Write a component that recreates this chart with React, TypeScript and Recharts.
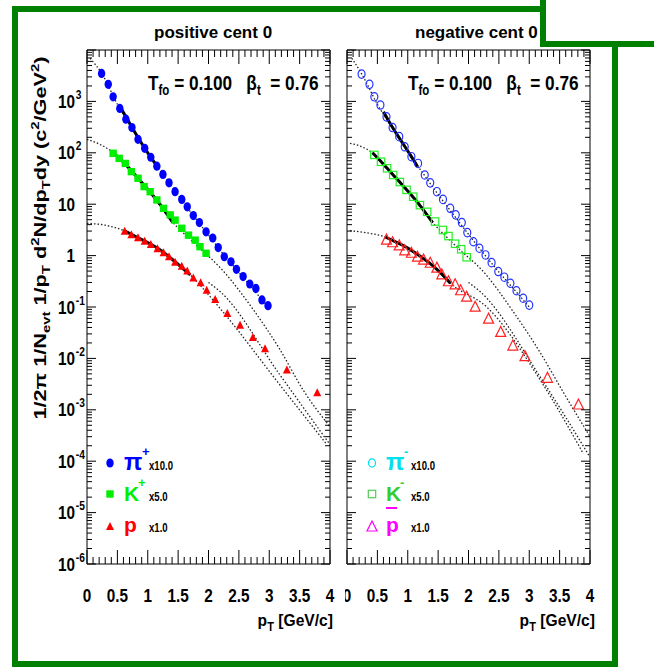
import React from "react";
import { ComposedChart, Line, Scatter, XAxis, YAxis, ReferenceLine, Legend } from "recharts";

type Pt = [number, number];

// pT (GeV/c) and scaled yield; pi x10, K x5, p x1
const piPlus: Pt[] = [
  [0.24, 3500], [0.35, 2150], [0.43, 1230], [0.54, 730], [0.64, 450], [0.74, 310], [0.84, 183],
  [0.95, 122], [1.05, 82], [1.15, 55], [1.25, 38], [1.35, 26], [1.45, 17.5], [1.56, 12.4],
  [1.65, 8.9], [1.75, 6.0], [1.85, 4.4], [1.96, 2.9], [2.07, 2.2], [2.16, 1.43], [2.26, 0.95],
  [2.37, 0.76], [2.46, 0.54], [2.57, 0.39], [2.68, 0.28], [2.78, 0.23], [2.88, 0.137], [2.98, 0.106],
];
const kPlus: Pt[] = [
  [0.43, 98], [0.53, 78], [0.63, 62], [0.73, 43], [0.84, 32], [0.94, 22], [1.04, 17.5], [1.15, 12.1],
  [1.26, 8.3], [1.37, 6.2], [1.45, 4.9], [1.56, 3.4], [1.67, 2.5], [1.78, 2.0], [1.86, 1.49], [1.96, 1.11],
];
const proton: Pt[] = [
  [0.62, 2.9], [0.73, 2.5], [0.84, 2.17], [0.95, 1.86], [1.05, 1.61], [1.16, 1.33], [1.26, 1.11],
  [1.35, 0.93], [1.45, 0.73], [1.56, 0.61], [1.65, 0.49], [1.75, 0.36], [1.87, 0.29], [1.97, 0.207],
  [2.11, 0.137], [2.31, 0.073], [2.52, 0.043], [2.73, 0.025], [2.93, 0.015], [3.29, 0.0058], [3.79, 0.0021],
];
const piMinus: Pt[] = [
  [0.24, 3400], [0.37, 2150], [0.45, 1230], [0.55, 850], [0.65, 500], [0.75, 310], [0.86, 206],
  [0.95, 131], [1.06, 84], [1.17, 62], [1.28, 37], [1.37, 26], [1.48, 17.5], [1.58, 12.4],
  [1.7, 8.3], [1.79, 6.2], [1.89, 4.4], [1.98, 2.8], [2.08, 1.86], [2.18, 1.39], [2.28, 1.03],
  [2.38, 0.73], [2.49, 0.49], [2.59, 0.38], [2.69, 0.29], [2.79, 0.207], [2.9, 0.148], [3.0, 0.109],
];
const kMinus: Pt[] = [
  [0.45, 91], [0.56, 67], [0.66, 50], [0.76, 37], [0.87, 27], [0.98, 19], [1.09, 14], [1.2, 9.6],
  [1.32, 7.1], [1.45, 4.6], [1.58, 3.15], [1.67, 2.4], [1.78, 1.7], [1.88, 1.33], [1.97, 0.93],
];
const pBar: Pt[] = [
  [0.65, 2.0], [0.75, 1.78], [0.86, 1.54], [0.95, 1.24], [1.06, 1.11], [1.16, 0.93], [1.26, 0.82],
  [1.37, 0.71], [1.48, 0.57], [1.56, 0.42], [1.67, 0.31], [1.78, 0.27], [1.87, 0.207], [1.97, 0.155],
  [2.11, 0.099], [2.33, 0.058], [2.53, 0.032], [2.73, 0.0174], [2.93, 0.0108], [3.3, 0.0041], [3.81, 0.00124],
];

// blast-wave fits (solid: fit range, dotted: extrapolation)
const piFitPos: Pt[] = [[0.54, 800], [0.7, 380], [0.85, 190], [1.0, 100], [1.16, 54]];
const kFitPos: Pt[] = [[0.4, 108], [0.6, 66], [0.8, 36], [1.0, 19.5], [1.2, 10], [1.41, 4.4]];
const pFitPos: Pt[] = [[0.6, 3.1], [0.8, 2.35], [1.0, 1.8], [1.2, 1.3], [1.4, 0.85], [1.55, 0.6], [1.7, 0.42]];
const piFitNeg: Pt[] = [[0.6, 630], [0.75, 310], [0.9, 165], [1.05, 88], [1.16, 54]];
const kFitNeg: Pt[] = [[0.42, 100], [0.6, 60], [0.8, 33], [1.0, 18], [1.2, 9.5], [1.41, 4.4]];
const pFitNeg: Pt[] = [[0.63, 2.3], [0.8, 1.85], [1.0, 1.4], [1.2, 0.98], [1.4, 0.65], [1.55, 0.45], [1.7, 0.29]];

const piDotPos: Pt[] = [
  [0.05, 6900], [0.25, 3400], [0.5, 880], [0.75, 290], [1.0, 100], [1.25, 38], [1.5, 15],
  [1.75, 6], [2.0, 2.5], [2.25, 1.05], [2.5, 0.47], [2.75, 0.21], [3.0, 0.095],
];
const kDotPos: Pt[] = [
  [0, 183], [0.2, 148], [0.4, 108], [0.7, 50], [1.0, 19.5], [1.4, 4.6], [1.8, 1.6], [2.2, 0.57],
  [2.74, 0.088], [3.18, 0.0146], [3.56, 0.0024], [4.0, 0.00047],
];
const pDotPos: Pt[] = [
  [0, 4.25], [0.3, 3.9], [0.6, 3.1], [1.0, 1.8], [1.4, 0.85], [1.7, 0.42], [2.19, 0.094],
  [3.18, 0.003], [3.95, 0.00021],
];
const pDot2Pos: Pt[] = [[2.0, 0.3], [2.19, 0.2], [3.18, 0.0047], [4.0, 0.00021]];
const piDotNeg: Pt[] = [
  [0.08, 6900], [0.25, 3300], [0.5, 880], [0.75, 300], [1.0, 105], [1.25, 40], [1.5, 15.5],
  [1.75, 6.3], [2.0, 2.6], [2.25, 1.1], [2.5, 0.48], [2.75, 0.22], [3.0, 0.1],
];
const kDotNeg: Pt[] = [
  [0.05, 153], [0.25, 130], [0.42, 100], [0.7, 46], [1.0, 18], [1.41, 4.4], [1.8, 1.5], [2.25, 0.48],
  [2.74, 0.08], [3.18, 0.013], [3.56, 0.0022], [4.0, 0.0003],
];
const pDotNeg: Pt[] = [
  [0.05, 3.05], [0.3, 2.8], [0.63, 2.3], [1.0, 1.4], [1.4, 0.65], [1.7, 0.29], [2.3, 0.1],
  [3.2, 0.0035], [3.89, 0.00014],
];
const pDot2Neg: Pt[] = [[2.0, 0.3], [2.19, 0.2], [3.2, 0.004], [4.0, 0.00012]];

const xTickLabels = ["0", "0.5", "1", "1.5", "2", "2.5", "3", "3.5", "4"];
const yDecades = [-6, -5, -4, -3, -2, -1, 0, 1, 2, 3, 4];

const FONT = "'Liberation Sans', Arial, Helvetica, sans-serif";
const GREEN = "#008000";
const PLOT_W = 243;
const PLOT_H = 514;

const xTicks = Array.from({ length: 41 }, (_, i) => i / 10);
const yTicks = yDecades.flatMap((e) =>
  e === 4 ? [1e4] : [1, 2, 3, 4, 5, 6, 7, 8, 9].map((m) => m * Math.pow(10, e))
);

const toD = (a: Pt[]) => a.map(([x, y]) => ({ x, y }));

// text with sub/superscripts: each part is [text, shift in px (+down), font size or 0 for base]
type Part = [string, number, number];
function Rich({ parts }: { parts: Part[] }) {
  let level = 0;
  return (
    <>
      {parts.map(([t, shift, size], i) => {
        const dy = shift - level;
        level = shift;
        return (
          <tspan key={i} dy={dy || undefined} fontSize={size || undefined}>
            {t}
          </tspan>
        );
      })}
    </>
  );
}

function XTick(props: any) {
  const { x, y, payload } = props;
  const v = payload.value as number;
  const major = Math.abs(v * 2 - Math.round(v * 2)) < 1e-6;
  const len = major ? 14 : 7;
  return (
    <g>
      <line x1={x} x2={x} y1={y} y2={y - len} stroke="#000" />
      <line x1={x} x2={x} y1={y - PLOT_H} y2={y - PLOT_H + len} stroke="#000" />
      {major && (
        <g transform={`translate(${x},${y + 38}) scale(0.85,1)`}>
          <text textAnchor="middle" fontSize={18} fontWeight="bold" fontFamily={FONT} fill="#000">
            {xTickLabels[Math.round(v * 2)]}
          </text>
        </g>
      )}
    </g>
  );
}

function YTick(props: any) {
  const { x, y, payload, showLabel } = props;
  const v = payload.value as number;
  const lg = Math.log10(v);
  const e = Math.round(lg);
  const major = Math.abs(lg - e) < 1e-6;
  const len = major ? 9 : 5;
  return (
    <g>
      <line x1={x} x2={x + len} y1={y} y2={y} stroke="#000" />
      <line x1={x + PLOT_W} x2={x + PLOT_W - len} y1={y} y2={y} stroke="#000" />
      {major && showLabel && e < 4 && (
        <g transform={`translate(${x - 12},${y + 6.5}) scale(0.85,1)`}>
          <text textAnchor="end" fontSize={18} fontWeight="bold" fontFamily={FONT} fill="#000">
            {e === 0 ? "1" : "10"}
          </text>
          {e !== 0 && e !== 1 && (
            <text x={1} y={-9} fontSize={12} fontWeight="bold" fontFamily={FONT} fill="#000">
              {String(e)}
            </text>
          )}
        </g>
      )}
    </g>
  );
}

const marker = (kind: string, color: string) => (p: any) => {
  const { cx, cy } = p;
  if (cx == null || cy == null) return <g />;
  switch (kind) {
    case "circle":
      return <ellipse cx={cx} cy={cy} rx={3.7} ry={4.6} fill={color} />;
    case "ocircle":
      return <ellipse cx={cx} cy={cy} rx={3.5} ry={4.2} fill="none" stroke={color} strokeWidth={1.2} />;
    case "square":
      return <rect x={cx - 3.7} y={cy - 3.7} width={7.4} height={7.4} fill={color} />;
    case "osquare":
      return <rect x={cx - 3.7} y={cy - 3.7} width={7.4} height={7.4} fill="none" stroke={color} strokeWidth={1.2} />;
    case "triangle":
      return <polygon points={`${cx},${cy - 5} ${cx - 4},${cy + 3} ${cx + 4},${cy + 3}`} fill={color} />;
    default:
      return (
        <polygon
          points={`${cx},${cy - 6} ${cx - 5},${cy + 4} ${cx + 5},${cy + 4}`}
          fill="none"
          stroke={color}
          strokeWidth={1.2}
        />
      );
  }
};

type Row = { kind: string; color: string; name: string; sup: string; nameColor: string; scale: string; bar?: string };

function LegendBox({ rows }: { rows: Row[] }) {
  const ys = [15, 46, 79];
  const base = [22, 53, 84];
  return (
    <svg width={90} height={96} style={{ overflow: "visible", display: "block" }}>
      {rows.map((r, i) => {
        const m = marker(r.kind, r.color)({ cx: 10, cy: ys[i] });
        return (
          <g key={r.name + i}>
            {m}
            <text x={24} y={base[i]} fontSize={i === 0 ? 24 : 21} fontWeight="bold" fontFamily={FONT} fill={r.nameColor}>
              {r.name}
            </text>
            {r.sup && (
              <text x={i === 0 ? 42 : 38} y={base[i] - 14} fontSize={13} fontWeight="bold" fontFamily={FONT} fill={r.nameColor}>
                {r.sup}
              </text>
            )}
            {r.bar && <line x1={24} x2={35} y1={60} y2={60} stroke={r.bar} strokeWidth={2} />}
            <g transform={`translate(49,${base[i]}) scale(0.8,1)`}>
              <text fontSize={12} fontWeight="bold" fontFamily={FONT} fill="#000">
                {r.scale}
              </text>
            </g>
          </g>
        );
      })}
    </svg>
  );
}

const posRows: Row[] = [
  { kind: "circle", color: "#0000ff", name: "\u03c0", sup: "+", nameColor: "#0000ff", scale: "x10.0" },
  { kind: "square", color: "#00ee00", name: "K", sup: "+", nameColor: "#00ee00", scale: "x5.0" },
  { kind: "triangle", color: "#ff0000", name: "p", sup: "", nameColor: "#ff0000", scale: "x1.0" },
];
const negRows: Row[] = [
  { kind: "ocircle", color: "#00e0f0", name: "\u03c0", sup: "-", nameColor: "#00e0f0", scale: "x10.0" },
  { kind: "osquare", color: "#55cc55", name: "K", sup: "-", nameColor: "#33cc33", scale: "x5.0", bar: "#ff00ff" },
  { kind: "otriangle", color: "#ff00ff", name: "p", sup: "", nameColor: "#ff00ff", scale: "x1.0" },
];

type PanelProps = {
  width: number;
  marginLeft: number;
  yWidth: number;
  showLabel: boolean;
  pts: { data: Pt[]; kind: string; color: string }[];
  fits: Pt[][];
  dots: Pt[][];
  rows: Row[];
  legendLeft: number;
};

function Panel({ width, marginLeft, yWidth, showLabel, pts, fits, dots, rows, legendLeft }: PanelProps) {
  const right = width - marginLeft - yWidth - PLOT_W;
  return (
    <ComposedChart width={width} height={640} margin={{ top: 50, right, bottom: 46, left: marginLeft }}>
      <XAxis
        type="number"
        dataKey="x"
        domain={[0, 4]}
        ticks={xTicks}
        interval={0}
        allowDataOverflow
        height={30}
        tickSize={0}
        tickMargin={0}
        tick={(p: any) => <XTick {...p} />}
        axisLine={{ stroke: "#000" }}
      />
      <YAxis
        type="number"
        dataKey="y"
        scale="log"
        domain={[1e-6, 1e4]}
        ticks={yTicks}
        interval={0}
        allowDataOverflow
        width={yWidth}
        tickSize={0}
        tickMargin={0}
        tick={(p: any) => <YTick {...p} showLabel={showLabel} />}
        axisLine={{ stroke: "#000" }}
      />
      <ReferenceLine x={4} stroke="#000" />
      <ReferenceLine y={1e4} stroke="#000" />
      {dots.map((d, i) => (
        <Line
          key={"d" + i}
          data={toD(d)}
          dataKey="y"
          type="monotone"
          stroke="#222"
          strokeWidth={1.3}
          strokeDasharray="1.5 2"
          dot={false}
          activeDot={false}
          isAnimationActive={false}
        />
      ))}
      {pts.map((s, i) => (
        <Scatter key={"s" + i} data={toD(s.data)} dataKey="y" shape={marker(s.kind, s.color)} isAnimationActive={false} />
      ))}
      {fits.map((d, i) => (
        <Line
          key={"f" + i}
          data={toD(d)}
          dataKey="y"
          type="monotone"
          stroke="#000"
          strokeWidth={3}
          dot={false}
          activeDot={false}
          isAnimationActive={false}
        />
      ))}
      <Legend
        layout="horizontal"
        verticalAlign="middle"
        align="center"
        wrapperStyle={{ left: legendLeft, top: 448, width: 90, height: 96 }}
        content={() => <LegendBox rows={rows} />}
      />
    </ComposedChart>
  );
}

function Params({ x }: { x: number }) {
  return (
    <g transform={`translate(${x},90) scale(0.82,1)`}>
      <text fontSize={21} fontWeight="bold" fontFamily={FONT} fill="#000" style={{ whiteSpace: "pre" }}>
        <Rich
          parts={[
            ["T", 0, 0],
            ["fo", 5, 14],
            [" = 0.100   \u03b2", 0, 0],
            ["t", 5, 14],
            ["  = 0.76", 0, 0],
          ]}
        />
      </text>
    </g>
  );
}

function PtTitle({ x }: { x: number }) {
  return (
    <g transform={`translate(${x},626) scale(0.92,1)`}>
      <text textAnchor="end" fontSize={17} fontWeight="bold" fontFamily={FONT} fill="#000" style={{ whiteSpace: "pre" }}>
        <Rich
          parts={[
            ["p", 0, 0],
            ["T", 5, 12],
            [" [GeV/c]", 0, 0],
          ]}
        />
      </text>
    </g>
  );
}

export default function App() {
  return (
    <div style={{ position: "absolute", left: 0, top: 0, width: 654, height: 670, background: "#fff", overflow: "hidden" }}>
      <div style={{ position: "absolute", left: 300, top: 0 }}>
        <Panel
          width={300}
          marginLeft={7}
          yWidth={40}
          showLabel={false}
          pts={[
            { data: piMinus, kind: "ocircle", color: "#2233ff" },
            { data: kMinus, kind: "osquare", color: "#22ee22" },
            { data: pBar, kind: "otriangle", color: "#ff2222" },
          ]}
          fits={[piFitNeg, kFitNeg, pFitNeg]}
          dots={[piDotNeg, kDotNeg, pDotNeg, pDot2Neg]}
          rows={negRows}
          legendLeft={62}
        />
      </div>
      <div style={{ position: "absolute", left: 0, top: 0, width: 345, height: 640, background: "#fff" }}>
        <Panel
          width={345}
          marginLeft={27}
          yWidth={60}
          showLabel
          pts={[
            { data: piPlus, kind: "circle", color: "#0000ff" },
            { data: kPlus, kind: "square", color: "#00ee00" },
            { data: proton, kind: "triangle", color: "#ff0000" },
          ]}
          fits={[piFitPos, kFitPos, pFitPos]}
          dots={[piDotPos, kDotPos, pDotPos, pDot2Pos]}
          rows={posRows}
          legendLeft={100}
        />
      </div>
      <svg width={654} height={670} style={{ position: "absolute", left: 0, top: 0, pointerEvents: "none" }}>
        <text x={154} y={38} fontSize={17} fontWeight="bold" fontFamily={FONT} fill="#000">
          positive cent 0
        </text>
        <text x={415} y={38} fontSize={17} fontWeight="bold" fontFamily={FONT} fill="#000">
          negative cent 0
        </text>
        <Params x={148} />
        <Params x={408} />
        <PtTitle x={333} />
        <PtTitle x={595} />
        <g transform="translate(46,238) rotate(-90)">
          <text
            textAnchor="middle"
            fontSize={16}
            fontWeight="bold"
            fontFamily={FONT}
            fill="#000"
            textLength={363}
            lengthAdjust="spacingAndGlyphs"
            style={{ whiteSpace: "pre" }}
          >
            <Rich
              parts={[
                ["1/2\u03c0 1/N", 0, 0],
                ["evt", 4, 11],
                [" 1/p", 0, 0],
                ["T", 4, 11],
                [" d", 0, 0],
                ["2", -7, 11],
                ["N/dp", 0, 0],
                ["T", 4, 11],
                ["dy (c", 0, 0],
                ["2", -7, 11],
                ["/GeV", 0, 0],
                ["2", -7, 11],
                [")", 0, 0],
              ]}
            />
          </text>
        </g>
        <rect x={15} y={9} width={600} height={655} fill="none" stroke={GREEN} strokeWidth={6} />
        <rect x={543} y={-20} width={200} height={64} fill="#fff" stroke={GREEN} strokeWidth={6} />
      </svg>
    </div>
  );
}
